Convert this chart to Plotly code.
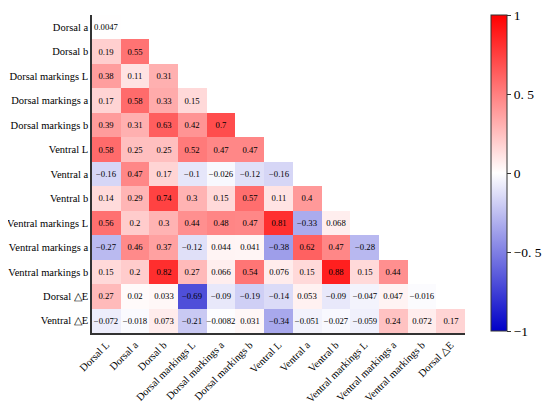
import numpy as np
import plotly.graph_objects as go

# column and row labels of the lower-triangle correlation matrix
cols = ["Dorsal L", "Dorsal a", "Dorsal b", "Dorsal markings L", "Dorsal markings a",
        "Dorsal markings b", "Ventral L", "Ventral a", "Ventral b", "Ventral markings L",
        "Ventral markings a", "Ventral markings b", "Dorsal △E"]
rows = ["Dorsal a", "Dorsal b", "Dorsal markings L", "Dorsal markings a", "Dorsal markings b",
        "Ventral L", "Ventral a", "Ventral b", "Ventral markings L", "Ventral markings a",
        "Ventral markings b", "Dorsal △E", "Ventral △E"]

r_dorsal_a = [0.0047]
r_dorsal_b = [0.19, 0.55]
r_dm_L = [0.38, 0.11, 0.31]
r_dm_a = [0.17, 0.58, 0.33, 0.15]
r_dm_b = [0.39, 0.31, 0.63, 0.42, 0.7]
r_ventral_L = [0.58, 0.25, 0.25, 0.52, 0.47, 0.47]
r_ventral_a = [-0.16, 0.47, 0.17, -0.1, -0.026, -0.12, -0.16]
r_ventral_b = [0.14, 0.29, 0.74, 0.3, 0.15, 0.57, 0.11, 0.4]
r_vm_L = [0.56, 0.2, 0.3, 0.44, 0.48, 0.47, 0.81, -0.33, 0.068]
r_vm_a = [-0.27, 0.46, 0.37, -0.12, 0.044, 0.041, -0.38, 0.62, 0.47, -0.28]
r_vm_b = [0.15, 0.2, 0.82, 0.27, 0.066, 0.54, 0.076, 0.15, 0.88, 0.15, 0.44]
r_dorsal_dE = [0.27, 0.02, 0.033, -0.69, -0.09, -0.19, -0.14, 0.053, -0.09, -0.047, 0.047, -0.016]
r_ventral_dE = [-0.072, -0.018, 0.073, -0.21, -0.0082, 0.031, -0.34, -0.051, -0.027, -0.059, 0.24, 0.072, 0.17]

all_rows = [r_dorsal_a, r_dorsal_b, r_dm_L, r_dm_a, r_dm_b, r_ventral_L, r_ventral_a,
            r_ventral_b, r_vm_L, r_vm_a, r_vm_b, r_dorsal_dE, r_ventral_dE]

n = len(cols)
z = []
txt = []
for r in all_rows:
    pad = [None] * (n - len(r))
    z.append(r + pad)
    txt.append(['{:.2g}'.format(v).replace('-', '−') for v in r] + [''] * (n - len(r)))

font_serif = "Liberation Serif, Times New Roman, serif"

fig = go.Figure(go.Heatmap(
    z=z, x=cols, y=rows,
    text=txt, texttemplate="%{text}",
    textfont=dict(family=font_serif, size=8.7, color="black"),
    zmin=-1, zmax=1,
    colorscale=[[0, "rgb(0,0,200)"], [0.5, "rgb(255,255,255)"], [1, "rgb(255,0,0)"]],
    hoverongaps=False,
    colorbar=dict(
        x=1.07, xanchor="left", xpad=0,
        y=1.0, yanchor="top", len=0.994, ypad=0,
        thickness=16, outlinewidth=1, outlinecolor="#333",
        tickmode="array",
        tickvals=[-1, -0.5, 0, 0.5, 1],
        ticktext=["−1", "−0. 5", "0", "0. 5", "1"],
        ticks="outside", ticklen=4, tickcolor="#333",
        ticklabeloverflow="allow",
        tickfont=dict(family=font_serif, size=13.5, color="black"),
    ),
))

fig.update_xaxes(tickangle=-45, showline=True, linecolor="#333", linewidth=1.5,
                 showgrid=False, ticks="", zeroline=False, automargin=False,
                 tickfont=dict(family=font_serif, size=10.5, color="black"))
fig.update_yaxes(autorange="reversed", showline=True, linecolor="#333", linewidth=1.5,
                 showgrid=False, ticks="", zeroline=False, automargin=False,
                 tickfont=dict(family=font_serif, size=10.5, color="black"))

# page body adds an 8px offset, margins compensate for it
fig.update_layout(
    width=550, height=415,
    margin=dict(l=84, r=93, t=7, b=90, autoexpand=False),
    plot_bgcolor="white", paper_bgcolor="white",
)

fig.write_html("out.html")
